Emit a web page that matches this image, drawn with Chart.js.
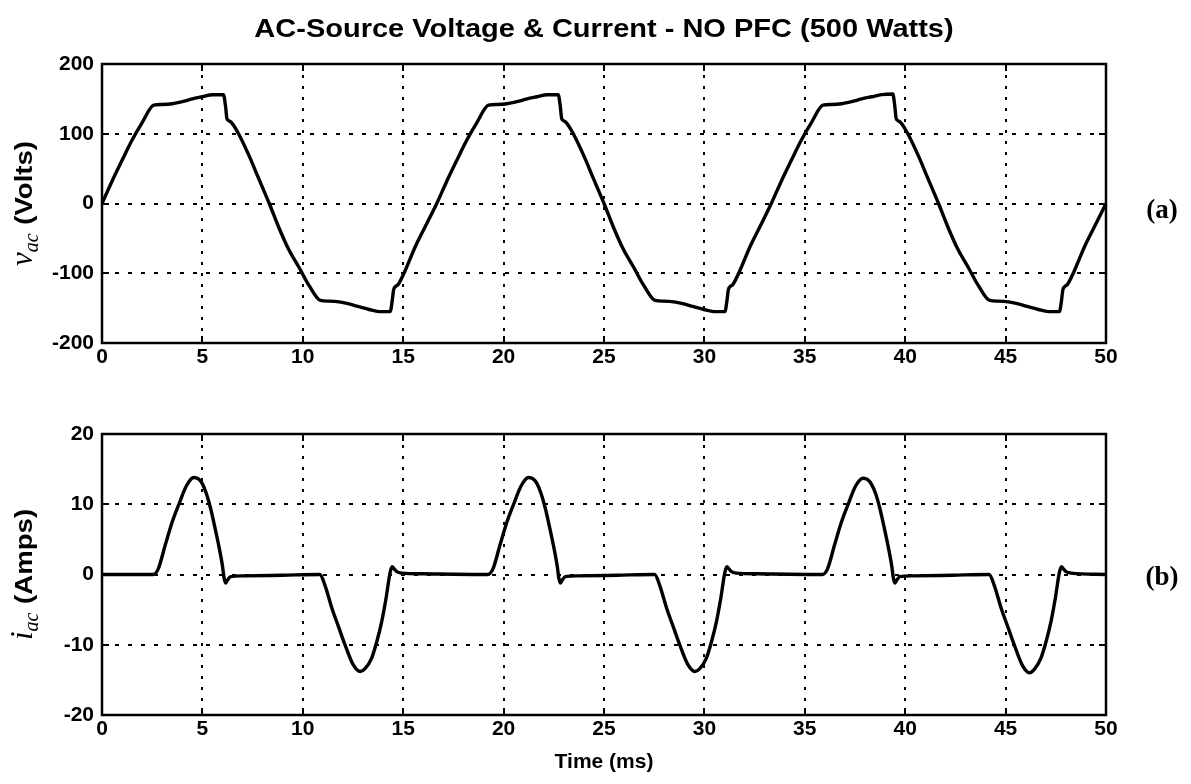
<!DOCTYPE html>
<html><head><meta charset="utf-8">
<script src="https://cdn.jsdelivr.net/npm/chart.js@4.4.1/dist/chart.umd.min.js"></script>
<style>
html,body{margin:0;padding:0;background:#fff;}
#wrap{position:relative;width:1191px;height:784px;background:#fff;overflow:hidden;}
canvas{position:absolute;left:0;}
</style></head><body>
<div id="wrap">
<canvas id="c1" width="1191" height="400" style="top:0;width:1191px;height:400px"></canvas>
<canvas id="c2" width="1191" height="384" style="top:400px;width:1191px;height:384px"></canvas>
</div>
<script>
// ---------- text ----------
const titleText = 'AC-Source Voltage & Current - NO PFC (500 Watts)';
const xTitle = 'Time (ms)';
const vLabel = ['v', 'ac', ' (Volts)'];
const iLabel = ['i', 'ac', ' (Amps)'];
const panelA = '(a)';
const panelB = '(b)';

// ---------- ticks ----------
const xTicks = [0, 5, 10, 15, 20, 25, 30, 35, 40, 45, 50];
const vTicks = [-200, -100, 0, 100, 200];
const iTicks = [-20, -10, 0, 10, 20];

// ---------- AC source voltage ----------
const vTime = [
  0, 0.5, 1.0, 1.5, 2.0, 2.58, 3.0, 3.5, 4.0, 4.5, 5.0, 5.5, 6.05, 6.15, 6.22, 6.3, 6.45, 6.8, 7.3, 7.8,
  8.33, 8.8, 9.3, 9.8, 10.3, 10.88, 11.3, 11.8, 12.3, 12.8, 13.3, 13.8, 14.35, 14.45, 14.52, 14.62, 14.75, 15.1, 15.6, 16.1,
  16.67, 17.17, 17.67, 18.17, 18.67, 19.25, 19.67, 20.17, 20.67, 21.17, 21.67, 22.17, 22.72, 22.82, 22.89, 22.97, 23.12, 23.47, 23.97, 24.47,
  25.0, 25.47, 25.97, 26.47, 26.97, 27.55, 27.97, 28.47, 28.97, 29.47, 29.97, 30.47, 31.02, 31.12, 31.19, 31.29, 31.42, 31.77, 32.27, 32.77,
  33.33, 33.83, 34.33, 34.83, 35.33, 35.91, 36.33, 36.83, 37.33, 37.83, 38.33, 38.83, 39.38, 39.48, 39.55, 39.63, 39.78, 40.13, 40.63, 41.13,
  41.66, 42.13, 42.63, 43.13, 43.63, 44.21, 44.63, 45.13, 45.63, 46.13, 46.63, 47.13, 47.68, 47.78, 47.85, 47.95, 48.08, 48.43, 48.93, 49.43,
  50.0
];
const vVolts = [
  0, 32, 62, 91, 116, 141, 142, 143, 146, 150, 153, 156, 156, 140, 122, 119, 116, 100, 70, 36,
  0, -34, -66, -91, -117, -139, -140, -141, -144, -148, -152, -155, -155, -140, -124, -119, -116, -96, -62, -33,
  0, 32, 62, 91, 116, 141, 142, 143, 146, 150, 153, 156, 156, 140, 122, 119, 116, 100, 70, 36,
  0, -34, -66, -91, -117, -139, -140, -141, -144, -148, -152, -155, -155, -140, -124, -119, -116, -96, -62, -33,
  0, 32, 62, 91, 116, 141, 142, 143, 146, 150, 153, 156, 157, 140, 122, 119, 116, 100, 70, 36,
  0, -34, -66, -91, -117, -139, -140, -141, -144, -148, -152, -155, -155, -140, -124, -119, -116, -96, -62, -33,
  0
];

// ---------- AC source current ----------
const iTime = [
  0, 2.55, 2.8, 3.16, 3.5, 3.83, 4.2, 4.57, 4.8, 5.0, 5.2, 5.4, 5.6, 5.8, 6.0, 6.08, 6.15, 6.25, 6.4, 7.0, 9.0,
  10.85, 11.1, 11.45, 11.8, 12.1, 12.5, 12.86, 13.1, 13.43, 13.7, 13.93, 14.15, 14.35, 14.45, 14.55, 14.68, 14.93, 16.0,
  19.22, 19.47, 19.83, 20.17, 20.5, 20.87, 21.24, 21.47, 21.67, 21.87, 22.07, 22.27, 22.47, 22.67, 22.75, 22.82, 22.92, 23.07, 23.67, 25.67,
  27.52, 27.77, 28.12, 28.47, 28.77, 29.17, 29.53, 29.77, 30.1, 30.37, 30.6, 30.82, 31.02, 31.12, 31.22, 31.35, 31.6, 32.67,
  35.88, 36.13, 36.49, 36.83, 37.16, 37.53, 37.9, 38.13, 38.33, 38.53, 38.73, 38.93, 39.13, 39.33, 39.41, 39.48, 39.58, 39.73, 40.33, 42.33,
  44.18, 44.43, 44.78, 45.13, 45.43, 45.83, 46.19, 46.43, 46.76, 47.03, 47.26, 47.48, 47.68, 47.78, 47.88, 48.01, 48.26, 50.0
];
const iAmps = [
  0, 0, 0.8, 4.3, 7.5, 10, 12.6, 13.8, 13.6, 12.9, 11.5, 9.5, 7, 4.3, 1.2, -0.5, -1.2, -0.8, -0.3, -0.2, -0.1,
  0, -1.5, -4.8, -7.6, -10, -12.8, -13.8, -13.4, -11.9, -9.4, -6.7, -3.3, 0.3, 1.1, 0.8, 0.4, 0.2, 0.1,
  0, 0.8, 4.3, 7.5, 10, 12.6, 13.8, 13.6, 12.9, 11.5, 9.5, 7, 4.3, 1.2, -0.5, -1.2, -0.8, -0.3, -0.2, -0.1,
  0, -1.5, -4.8, -7.6, -10, -12.8, -13.8, -13.4, -11.9, -9.4, -6.7, -3.3, 0.3, 1.1, 0.8, 0.4, 0.2, 0.1,
  0, 0.8, 4.3, 7.5, 10, 12.6, 13.7, 13.5, 12.8, 11.5, 9.5, 7, 4.3, 1.2, -0.5, -1.2, -0.8, -0.3, -0.2, -0.1,
  0, -1.5, -4.8, -7.6, -10, -12.9, -14.0, -13.5, -11.9, -9.4, -6.7, -3.3, 0.3, 1.1, 0.8, 0.4, 0.2, 0
];

// ---------- style ----------
const SANS = '"Liberation Sans", Arial, Helvetica, sans-serif';
const SERIF = '"Liberation Serif", "Times New Roman", serif';
const tickFont = { family: SANS, size: 21, weight: 'bold' };

function setTicks(arr) {
  return function (scale) { scale.ticks = arr.map(v => ({ value: v })); };
}

const framePlugin = {
  id: 'frame',
  afterDatasetsDraw(chart) {
    const { ctx, chartArea: a, scales } = chart;
    ctx.save();
    ctx.strokeStyle = '#000';
    ctx.lineWidth = 2;
    const tl = 7;
    ctx.beginPath();
    scales.x.ticks.forEach(t => {
      const px = Math.round(scales.x.getPixelForValue(t.value));
      ctx.moveTo(px, a.top); ctx.lineTo(px, a.top + tl);
      ctx.moveTo(px, a.bottom); ctx.lineTo(px, a.bottom - tl);
    });
    scales.y.ticks.forEach(t => {
      const py = Math.round(scales.y.getPixelForValue(t.value));
      ctx.moveTo(a.left, py); ctx.lineTo(a.left + tl, py);
      ctx.moveTo(a.right, py); ctx.lineTo(a.right - tl, py);
    });
    ctx.stroke();
    ctx.lineWidth = 2.5;
    ctx.strokeRect(a.left, a.top, a.right - a.left, a.bottom - a.top);
    ctx.restore();
  },
  afterDraw(chart, args, opts) {
    const { ctx, chartArea: a } = chart;
    const cy = (a.top + a.bottom) / 2;
    ctx.save();
    ctx.fillStyle = '#000';
    if (opts.title) {
      ctx.save();
      ctx.translate((a.left + a.right) / 2, 37);
      ctx.scale(1.16, 1);
      ctx.font = 'bold 25px ' + SANS;
      ctx.textAlign = 'center';
      ctx.textBaseline = 'alphabetic';
      ctx.fillText(opts.title, 0, 0);
      ctx.restore();
    }
    // y-axis label with italic symbol and subscript
    const [sym, sub, rest] = opts.ylabel;
    const stretch = 1.2;
    ctx.save();
    ctx.translate(32, cy + opts.labDy);
    ctx.rotate(-Math.PI / 2);
    const fSym = 'italic 31px ' + SERIF;
    const fSub = 'italic 20px ' + SERIF;
    const fRest = 'bold 23px ' + SANS;
    ctx.font = fSym; const w1 = ctx.measureText(sym).width;
    ctx.font = fSub; const w2 = ctx.measureText(sub).width + 1;
    ctx.font = fRest; const w3 = ctx.measureText(rest).width * stretch;
    let x = -(w1 + w2 + w3) / 2;
    ctx.textAlign = 'left';
    ctx.textBaseline = 'alphabetic';
    ctx.font = fSym; ctx.fillText(sym, x, 0); x += w1;
    ctx.font = fSub; ctx.fillText(sub, x, 6); x += w2;
    ctx.translate(x, 0);
    ctx.scale(stretch, 1);
    ctx.font = fRest; ctx.fillText(rest, 0, 0);
    ctx.restore();
    // panel tag
    ctx.font = 'bold 27px ' + SERIF;
    ctx.textAlign = 'center';
    ctx.textBaseline = 'middle';
    ctx.fillText(opts.tag, 1162, cy + opts.tagDy);
    ctx.restore();
  }
};

function makeChart(id, xs, ys, yTickArr, ymin, ymax, pad, xH, opts, showXTitle) {
  return new Chart(document.getElementById(id), {
    type: 'line',
    data: {
      datasets: [{
        data: xs.map((t, k) => ({ x: t, y: ys[k] })),
        borderColor: '#000',
        borderWidth: 3.4,
        pointRadius: 0,
        fill: false,
        cubicInterpolationMode: 'monotone'
      }]
    },
    options: {
      responsive: false,
      animation: false,
      devicePixelRatio: 1,
      layout: { padding: pad },
      plugins: { legend: { display: false }, tooltip: { enabled: false }, frame: opts },
      scales: {
        x: {
          type: 'linear', min: 0, max: 50,
          afterBuildTicks: setTicks(xTicks),
          afterFit: s => { s.height = xH; },
          grid: { color: '#000', lineWidth: 2, drawTicks: false },
          border: { display: false, dash: [3, 8] },
          ticks: { color: '#000', font: tickFont, padding: 2, maxRotation: 0, autoSkip: false },
          title: showXTitle ? { display: true, text: xTitle, color: '#000', font: { family: SANS, size: 21, weight: 'bold' }, padding: { top: 0, bottom: 9 } } : { display: false }
        },
        y: {
          type: 'linear', min: ymin, max: ymax,
          afterBuildTicks: setTicks(yTickArr),
          afterFit: s => { s.width = 102; },
          grid: { color: '#000', lineWidth: 2, drawTicks: false },
          border: { display: false, dash: [4, 9] },
          ticks: { color: '#000', font: tickFont, padding: 8, autoSkip: false }
        }
      }
    },
    plugins: [framePlugin]
  });
}

makeChart('c1', vTime, vVolts, vTicks, -200, 200,
  { left: 0, right: 85, top: 64, bottom: 17 }, 40,
  { title: titleText, ylabel: vLabel, tag: panelA, tagDy: 8, labDy: 0 }, false);
makeChart('c2', iTime, iAmps, iTicks, -20, 20,
  { left: 0, right: 85, top: 34, bottom: 0 }, 69,
  { title: null, ylabel: iLabel, tag: panelB, tagDy: 4, labDy: 0 }, true);
</script>
</body></html>
